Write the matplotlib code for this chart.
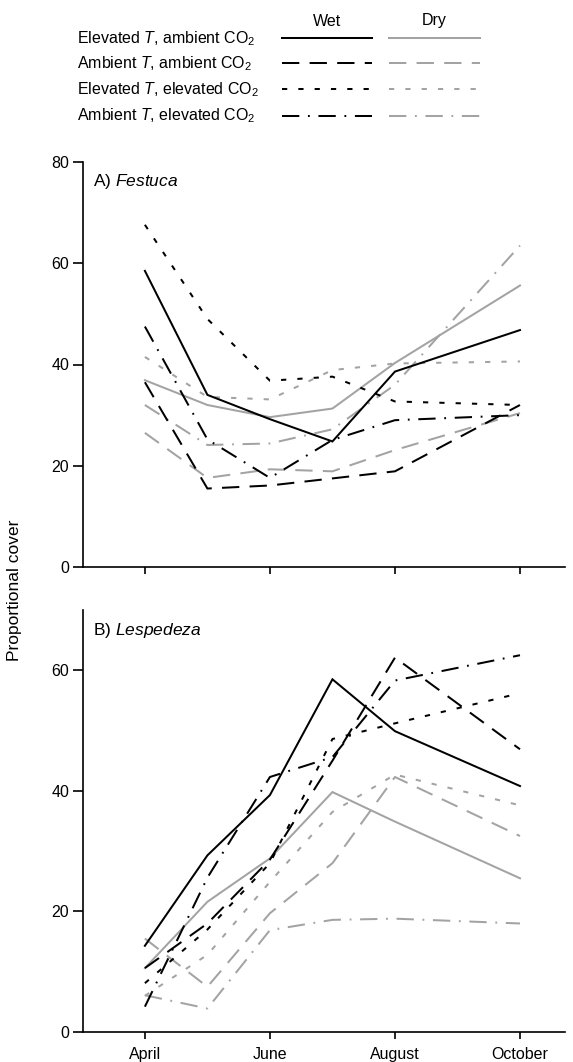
import numpy as np
import matplotlib
matplotlib.use("Agg")
import matplotlib.pyplot as plt

plt.rcParams['font.family'] = ['Liberation Sans', 'DejaVu Sans']
plt.rcParams['mathtext.fontset'] = 'custom'
plt.rcParams['mathtext.rm'] = 'Liberation Sans'
plt.rcParams['mathtext.it'] = 'Liberation Sans:italic'

# sampling months (0 = April ... 6 = October)
months = [0, 1, 2, 3, 4, 6]
tick_pos = [0, 2, 4, 6]
tick_labels = ['April', 'June', 'August', 'October']

treatments = ['Elevated $\\it{T}$, ambient CO$_2$',
              'Ambient $\\it{T}$, ambient CO$_2$',
              'Elevated $\\it{T}$, elevated CO$_2$',
              'Ambient $\\it{T}$, elevated CO$_2$']

# Festuca
fes_wet_eTaC = [58.5, 34.0, 29.2, 24.8, 38.6, 46.8]
fes_wet_aTaC = [36.5, 15.5, 16.1, 17.5, 18.9, 32.0]
fes_wet_eTeC = [67.6, 49.0, 36.8, 37.6, 32.7, 32.0]
fes_wet_aTeC = [47.5, 25.2, 17.6, 25.1, 29.0, 30.0]
fes_dry_eTaC = [36.9, 32.0, 29.6, 31.3, 40.3, 55.6]
fes_dry_aTaC = [26.5, 17.6, 19.3, 18.9, 23.1, 30.4]
fes_dry_eTeC = [41.5, 33.6, 33.1, 38.9, 40.2, 40.6]
fes_dry_aTeC = [32.0, 24.1, 24.4, 27.2, 36.0, 63.5]

# Lespedeza
les_wet_eTaC = [14.3, 29.3, 39.3, 58.5, 49.9, 40.8]
les_wet_aTaC = [10.6, 18.0, 28.6, 45.0, 62.1, 46.9]
les_wet_eTeC = [8.1, 17.0, 28.0, 48.6, 51.2, 56.2]
les_wet_aTeC = [4.2, 25.6, 42.3, 45.6, 58.3, 62.5]
les_dry_eTaC = [10.6, 21.6, 28.8, 39.8, 34.9, 25.5]
les_dry_aTaC = [15.5, 7.5, 19.7, 28.0, 42.3, 32.5]
les_dry_eTeC = [6.0, 12.8, 24.9, 36.5, 42.7, 37.6]
les_dry_aTeC = [6.1, 3.9, 16.9, 18.6, 18.8, 18.0]

LW = 1.45
styles = [None, (8.6, 5.1), (2.6, 5.5), (8.6, 4.3, 0.9, 4.3)]
WET = 'black'
DRY = '#a3a3a3'


def draw(ax, x, y, color, st):
    line, = ax.plot(x, y, color=color, lw=LW, solid_joinstyle='miter')
    if st is not None:
        line.set_dashes(st)
    return line


W, H = 573, 1062
fig = plt.figure(figsize=(W / 100, H / 100), dpi=100)

axA = fig.add_axes([83 / W, 1 - 567 / H, 482 / W, 405 / H])
axB = fig.add_axes([83 / W, 1 - 1032 / H, 482 / W, 422 / H])

fes_wet = [fes_wet_eTaC, fes_wet_aTaC, fes_wet_eTeC, fes_wet_aTeC]
fes_dry = [fes_dry_eTaC, fes_dry_aTaC, fes_dry_eTeC, fes_dry_aTeC]
les_wet = [les_wet_eTaC, les_wet_aTaC, les_wet_eTeC, les_wet_aTeC]
les_dry = [les_dry_eTaC, les_dry_aTaC, les_dry_eTeC, les_dry_aTeC]

for ax, wet, dry, ymax, yt, title in [
        (axA, fes_wet, fes_dry, 80, [0, 20, 40, 60, 80], 'A) $\\it{Festuca}$'),
        (axB, les_wet, les_dry, 70, [0, 20, 40, 60], 'B) $\\it{Lespedeza}$')]:
    for d, st in zip(dry, styles):
        draw(ax, months, d, DRY, st)
    for w, st in zip(wet, styles):
        draw(ax, months, w, WET, st)
    ax.set_xlim(-0.99, 6.72)
    ax.set_ylim(0, ymax)
    ax.set_yticks(yt)
    ax.set_xticks(tick_pos)
    for s in ['top', 'right']:
        ax.spines[s].set_visible(False)
    for s in ['left', 'bottom']:
        ax.spines[s].set_linewidth(1.2)
    ax.tick_params(axis='y', length=7, width=1.2, labelsize=11.5, pad=3)
    ax.tick_params(axis='x', length=5, width=1.2, labelsize=11.5, pad=6)
    ax.text(0.02, 0.975, title, transform=ax.transAxes, fontsize=12.5,
            ha='left', va='top')

axA.set_xticklabels([])
axB.set_xticklabels(tick_labels)

fig.text(15 / W, 1 - 590 / H, 'Proportional cover', rotation=90,
         ha='center', va='center', fontsize=12.5)

# legend block at the top
lg = fig.add_axes([0, 1 - 135 / H, 1, 135 / H])
lg.set_xlim(0, W)
lg.set_ylim(135, 0)
lg.axis('off')
rows = [38.3, 63.3, 89.3, 116]
lg.text(327, 21, 'Wet', ha='center', va='center', fontsize=11.5)
lg.text(434, 21, 'Dry', ha='center', va='center', fontsize=11.5)
for lab, st, yy in zip(treatments, styles, rows):
    lg.text(77, yy, lab, ha='left', va='center', fontsize=11.5)
    draw(lg, [282, 372], [yy, yy], WET, st)
    draw(lg, [389, 480], [yy, yy], DRY, st)

fig.savefig('out.png', dpi=100)
